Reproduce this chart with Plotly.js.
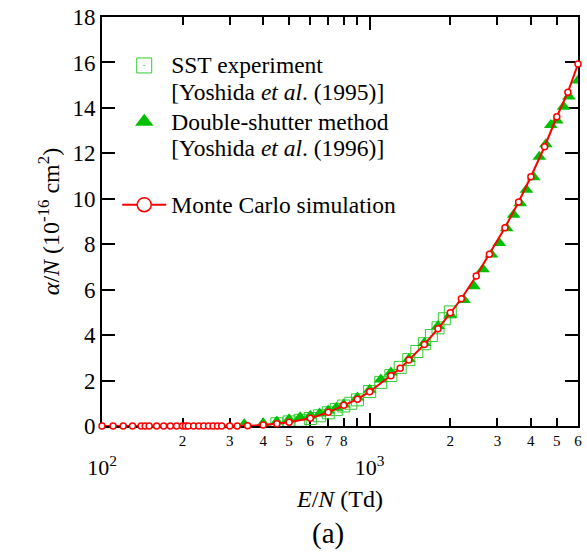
<!DOCTYPE html>
<html>
<head>
<meta charset="utf-8">
<script src="https://cdn.plot.ly/plotly-3.0.1.min.js"></script>
<style>html,body{margin:0;padding:0;background:#fff;}#chart{width:587px;height:554px;}</style>
</head>
<body>
<div id="chart"></div>
<script>
// Monte Carlo simulation
const mcE = [100,110,120,130,140,145,150,160,170,180,190,200,205,210,220,230,240,250,260,270,280,300,320,350,400,450,500,600,700,800,900,1000,1200,1300,1400,1600,1800,2000,2200,2500,2800,3200,3600,4000,4500,5000,5500,6000];
const mcA = [0,0,0,0,0,0,0,0,0,0,0,0,0,0,0,0,0,0,0,0,0,0,0,0.01,0.04,0.10,0.17,0.34,0.60,0.91,1.18,1.51,2.21,2.54,2.90,3.59,4.28,4.98,5.60,6.60,7.56,8.73,9.86,10.97,12.29,13.61,14.69,15.93];
// SST experiment [Yoshida et al. (1995)]
const sstE = [450,500,550,600,650,700,750,800,850,900,1000,1100,1200,1300,1400,1500,1600,1700,1800,1900,2000];
const sstA = [0.10,0.18,0.25,0.33,0.45,0.58,0.72,0.88,1.00,1.15,1.52,1.92,2.22,2.58,2.92,3.28,3.62,3.98,4.32,4.72,5.02];
// Double-shutter method [Yoshida et al. (1996)]
const dsE = [340,400,450,500,550,600,650,700,750,800,900,1000,1100,1200,1400,1600,1800,2000,2250,2450,2650,2850,3050,3250,3450,3650,3850,4100,4300,4550,4750,5000,5300,5550,6000];
const dsA = [0.08,0.12,0.20,0.30,0.38,0.45,0.55,0.68,0.80,0.95,1.25,1.60,2.05,2.35,2.95,3.65,4.40,4.90,5.55,6.15,6.90,7.55,8.05,8.70,9.30,9.80,10.40,10.95,11.85,12.40,13.25,13.45,14.05,14.50,15.20];
// axis tick labels
const minorTickVals = [200,300,400,500,600,700,800,900,2000,3000,4000,5000,6000];
const minorTickText = ['2','3','4','5','6','7','8','','2','3','4','5','6'];
const decadeTickVals = [100,1000];
const decadeTickText = ['10<sup>2</sup>','10<sup>3</sup>'];
const legendNames = [
  'SST experiment<br>[Yoshida <i>et al</i>. (1995)]',
  'Double-shutter method<br>[Yoshida <i>et al</i>. (1996)]<br> ',
  'Monte Carlo simulation'
];

const FONT = 'Liberation Serif, Times New Roman, serif';
const GREEN_SQ = '#2ecc2e';
const GREEN_TR = '#00c000';
const RED = '#ff0000';
const big = s => '<span style="font-size:23.5px">' + s.split('<br>').join('</span><br><span style="font-size:23.5px">') + '</span>';

const traces = [
  {x: sstE, y: sstA, type: 'scatter', mode: 'markers', showlegend: false,
   marker: {symbol: 'square-open-dot', size: 12, color: GREEN_SQ, line: {width: 1, color: GREEN_SQ}}},
  {x: dsE, y: dsA, type: 'scatter', mode: 'markers', showlegend: false,
   marker: {symbol: 'triangle-up', size: 12, color: GREEN_TR, line: {width: 0}}},
  {x: mcE, y: mcA, type: 'scatter', mode: 'lines+markers', showlegend: false, cliponaxis: false,
   line: {color: RED, width: 2},
   marker: {symbol: 'circle', size: 6, color: '#ffffff', line: {width: 1.5, color: RED}}},
  // legend entries
  {x: [null], y: [null], xaxis: 'x2', type: 'scatter', mode: 'markers', name: big(legendNames[0]),
   marker: {symbol: 'square-open-dot', size: 15, color: GREEN_SQ, line: {width: 1, color: GREEN_SQ}}},
  {x: [null], y: [null], xaxis: 'x2', type: 'scatter', mode: 'markers', name: big(legendNames[1]),
   marker: {symbol: 'triangle-up', size: 16, color: GREEN_TR, line: {width: 0}}},
  {x: [null], y: [null], xaxis: 'x2', type: 'scatter', mode: 'lines+markers', name: big(legendNames[2]),
   line: {color: RED, width: 2},
   marker: {symbol: 'circle', size: 14, color: '#ffffff', line: {width: 1.5, color: RED}}}
];

const xr = [2, Math.log10(6000)];
const layout = {
  width: 587, height: 554,
  margin: {l: 102, r: 9, t: 17, b: 128},
  paper_bgcolor: '#fff', plot_bgcolor: '#fff',
  font: {family: FONT, color: '#000', size: 23},
  showlegend: true,
  legend: {x: 0.032, y: 0.93, xanchor: 'left', yanchor: 'top', bgcolor: 'rgba(0,0,0,0)',
           font: {family: FONT, size: 20.5, color: '#000'}, valign: 'top', itemwidth: 44,
           tracegroupgap: 0, traceorder: 'normal'},
  xaxis: {type: 'log', range: xr, showgrid: false, zeroline: false,
          showline: true, linecolor: '#000', linewidth: 2, mirror: 'ticks',
          ticks: 'inside', ticklen: 8, tickwidth: 2, tickcolor: '#000',
          tickmode: 'array', tickvals: minorTickVals, ticktext: minorTickText,
          tickfont: {family: FONT, size: 15, color: '#000'}, layer: 'below traces',
          title: {text: '<i>E</i>/<i>N</i> (Td)', font: {family: FONT, size: 24, color: '#000'}, standoff: 42}},
  xaxis2: {type: 'log', range: xr, overlaying: 'x', side: 'bottom', anchor: 'y',
           showgrid: false, zeroline: false, showline: false, mirror: 'ticks',
           ticks: 'inside', ticklen: 13, tickwidth: 2, tickcolor: '#000',
           tickmode: 'array', tickvals: decadeTickVals, ticktext: decadeTickText,
           ticklabelstandoff: 26, layer: 'below traces',
           tickfont: {family: FONT, size: 22, color: '#000'}},
  yaxis: {range: [0, 18], dtick: 2, showgrid: false, zeroline: false,
          showline: true, linecolor: '#000', linewidth: 2, mirror: 'ticks',
          ticks: 'inside', ticklen: 13, tickwidth: 2, tickcolor: '#000',
          tickfont: {family: FONT, size: 23, color: '#000'}, layer: 'below traces',
          title: {text: '<i>α</i>/<i>N</i> (10<sup>-16</sup> cm<sup>2</sup>)', font: {family: FONT, size: 24, color: '#000'}, standoff: 6}},
  annotations: [
    {text: '(a)', xref: 'paper', yref: 'paper', x: 0.475, y: -0.264, xanchor: 'center', yanchor: 'middle',
     showarrow: false, font: {family: FONT, size: 29, color: '#000'}}
  ]
};

Plotly.newPlot('chart', traces, layout, {displayModeBar: false, staticPlot: true});
</script>
</body>
</html>
